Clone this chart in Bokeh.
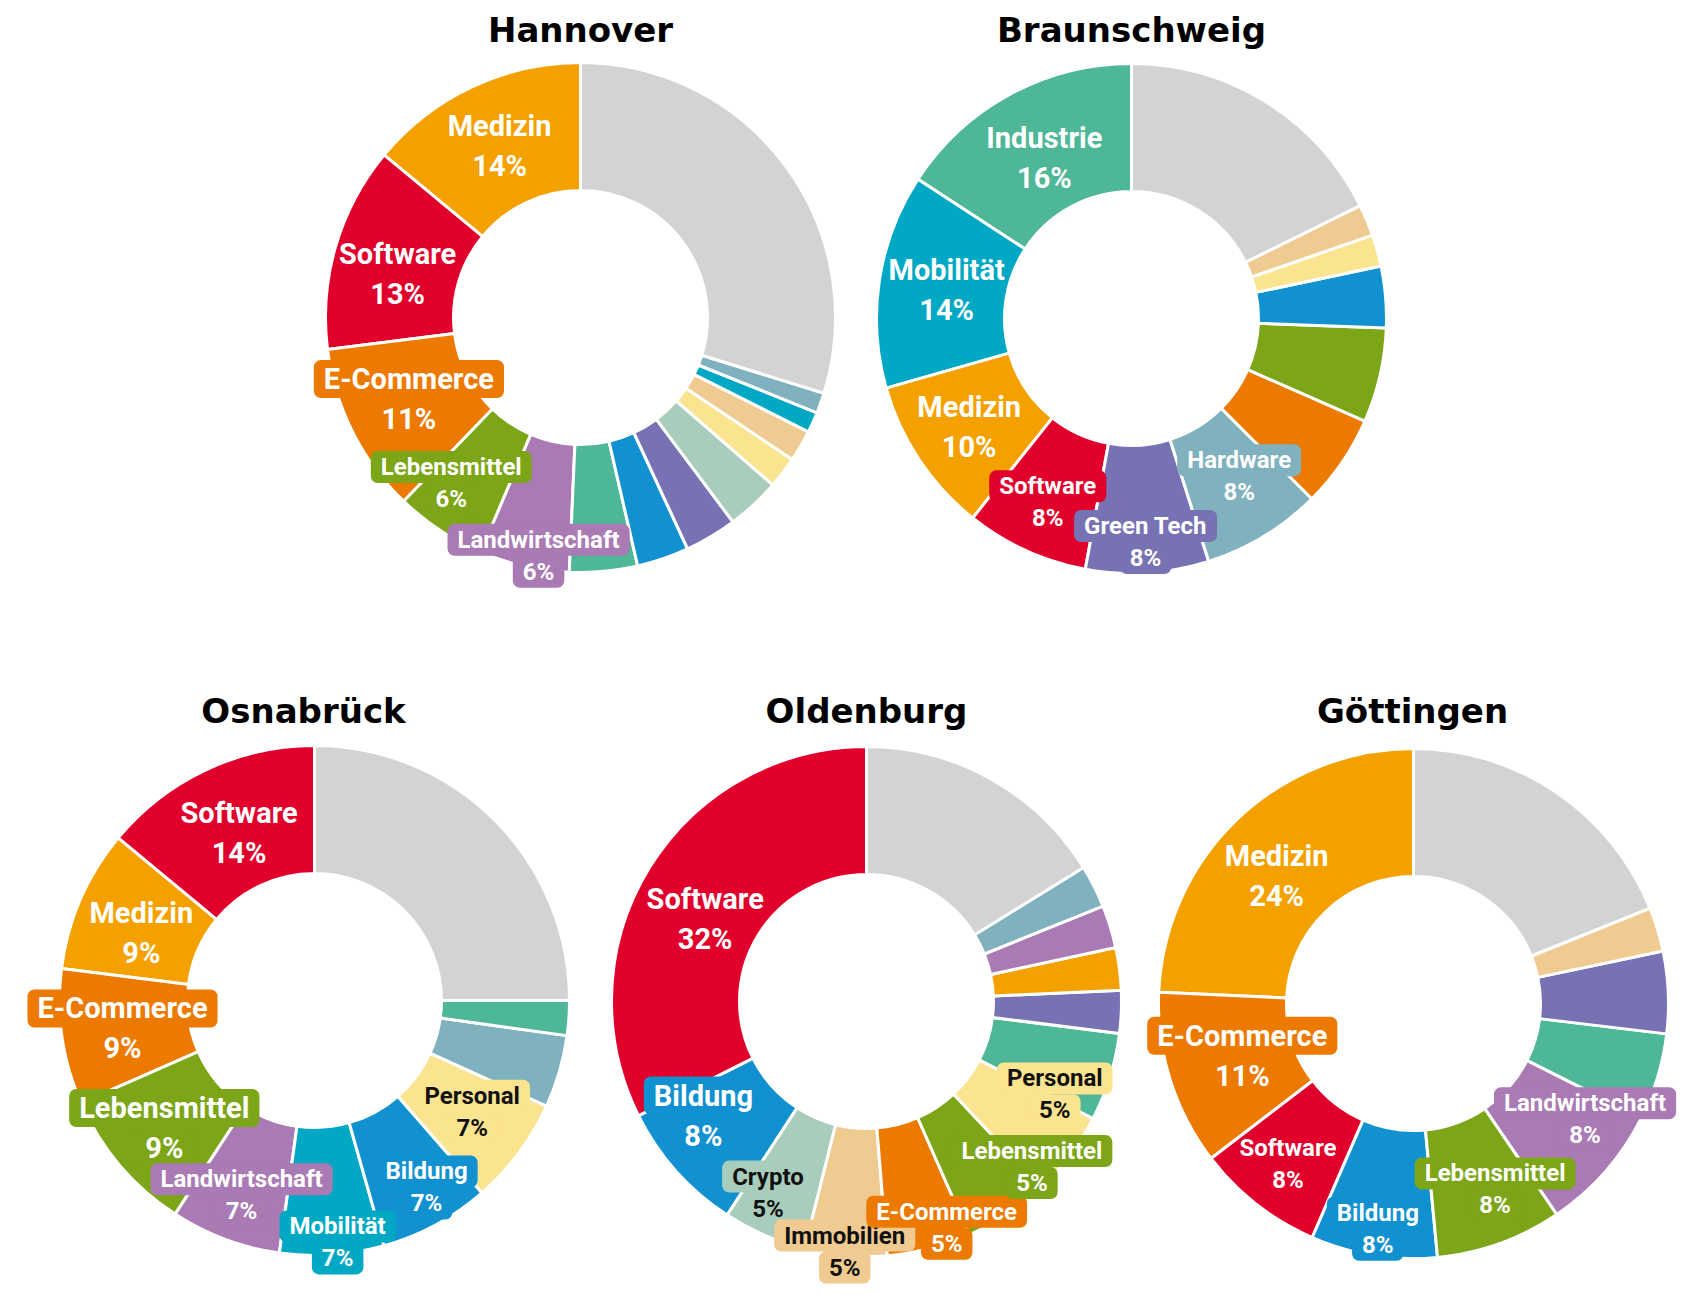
import math
from bokeh.plotting import figure
from bokeh.models import Range1d, ColumnDataSource
from bokeh.embed import file_html
from bokeh.resources import INLINE
from bokeh.core.properties import value

# ---------------- data ----------------
cities = ["Hannover", "Braunschweig", "Osnabrück", "Oldenburg", "Göttingen"]

hannover_cats = ["Medizin", "Software", "E-Commerce", "Lebensmittel", "Landwirtschaft",
                 "Industrie", "Bildung", "Green Tech", "Crypto", "Personal", "Immobilien",
                 "Mobilität", "Hardware", "Sonstige"]
hannover_vals = [14.0, 13.0, 10.8, 5.8, 5.7, 4.3, 3.3, 3.3, 3.4, 2.0, 2.0, 1.3, 1.3, 29.8]
hannover_labeled = 5

braunschweig_cats = ["Industrie", "Mobilität", "Medizin", "Software", "Green Tech", "Hardware",
                     "E-Commerce", "Lebensmittel", "Bildung", "Personal", "Immobilien", "Sonstige"]
braunschweig_vals = [15.8, 13.6, 9.9, 7.8, 7.8, 7.6, 5.9, 6.0, 3.9, 2.0, 2.0, 17.7]
braunschweig_labeled = 6

osnabrueck_cats = ["Software", "Medizin", "E-Commerce", "Lebensmittel", "Landwirtschaft",
                   "Mobilität", "Bildung", "Personal", "Hardware", "Industrie", "Sonstige"]
osnabrueck_vals = [14, 9, 8.6, 9.2, 7, 6.6, 7, 6.8, 4.6, 2.2, 25.0]
osnabrueck_labeled = 8

oldenburg_cats = ["Software", "Bildung", "Crypto", "Immobilien", "E-Commerce", "Lebensmittel",
                  "Personal", "Industrie", "Green Tech", "Medizin", "Landwirtschaft", "Hardware",
                  "Sonstige"]
oldenburg_vals = [32.4, 8.4, 5.3, 5.2, 5.3, 5.4, 5.4, 5.6, 2.7, 2.7, 2.7, 2.7, 16.2]
oldenburg_labeled = 7

goettingen_cats = ["Medizin", "E-Commerce", "Software", "Bildung", "Lebensmittel",
                   "Landwirtschaft", "Industrie", "Green Tech", "Immobilien", "Sonstige"]
goettingen_vals = [24.3, 11.1, 8.1, 8.0, 8.0, 8.1, 5.5, 5.2, 2.8, 18.9]
goettingen_labeled = 6

# ---------------- style ----------------
COLORS = {
    "Medizin": "#f4a100", "Software": "#e1002b", "E-Commerce": "#ec7900",
    "Lebensmittel": "#7ca518", "Landwirtschaft": "#a97ab4", "Industrie": "#4eb797",
    "Bildung": "#1191cf", "Green Tech": "#7772b4", "Crypto": "#a9cdbd",
    "Personal": "#fbe48f", "Immobilien": "#f0cb91", "Mobilität": "#00a8c4",
    "Hardware": "#7fb1be", "Sonstige": "#d3d3d3",
}
DARK_TEXT = {"Personal", "Crypto", "Immobilien"}

# layout in reference pixel coordinates (y downward)
CENTERS = {
    "Hannover": (580, 317), "Braunschweig": (1131, 318),
    "Osnabrück": (314, 1000), "Oldenburg": (866, 1001), "Göttingen": (1413, 1003),
}
TITLE_POS = {
    "Hannover": (580, 29), "Braunschweig": (1131, 29),
    "Osnabrück": (303, 710), "Oldenburg": (866, 710), "Göttingen": (1412, 710),
}
R_OUT = 255
R_IN = 127
# label (angle nudge in degrees, radius) for labeled slices, in order
LABEL_LAYOUT = {
    "Hannover": [(0, 190), (2.8, 188), (-1.2, 190), (-4.5, 210), (2.8, 242)],
    "Braunschweig": [(0, 183), (0, 187), (0, 195), (0, 202), (0, 224), (3, 191)],
    "Osnabrück": [(-1, 184), (2, 186), (0, 194), (0, 197), (0, 208), (1.5, 243), (2.5, 218), (1.5, 193)],
    "Oldenburg": [(4.7, 181), (-6.8, 199), (-3.7, 215), (-0.3, 251), (5.3, 240), (11.5, 234), (10.8, 210)],
    "Göttingen": [(3.3, 187), (-0.5, 179), (0, 204), (0, 228), (3.9, 203), (7.2, 207)],
}
NO_BOX = {
    "Hannover": {"Medizin", "Software"},
    "Braunschweig": {"Industrie", "Mobilität", "Medizin"},
    "Osnabrück": {"Software", "Medizin"},
    "Oldenburg": {"Software"},
    "Göttingen": {"Medizin", "Software"},
}

DATA = {
    "Hannover": (hannover_cats, hannover_vals, hannover_labeled),
    "Braunschweig": (braunschweig_cats, braunschweig_vals, braunschweig_labeled),
    "Osnabrück": (osnabrueck_cats, osnabrueck_vals, osnabrueck_labeled),
    "Oldenburg": (oldenburg_cats, oldenburg_vals, oldenburg_labeled),
    "Göttingen": (goettingen_cats, goettingen_vals, goettingen_labeled),
}

H_REF = 1295
FIG_W, FIG_H = 1683, 1287


def Y(y):
    return H_REF - y


p = figure(width=FIG_W, height=FIG_H, x_range=Range1d(0, FIG_W),
           y_range=Range1d(H_REF - FIG_H, H_REF),
           output_backend="svg", toolbar_location=None, min_border=0,
           x_axis_type=None, y_axis_type=None)
p.grid.visible = False
p.outline_line_color = None
p.background_fill_color = "white"

wedge = dict(x=[], y=[], start=[], end=[], color=[])
boxed = dict(x=[], y=[], text=[], color=[], bg=[], size=[])
plain = dict(x=[], y=[], text=[], color=[], size=[])
titles = dict(x=[], y=[], text=[])

for city in cities:
    cats, vals, nlab = DATA[city]
    cx, cy = CENTERS[city]
    total = sum(vals)
    cum = 0.0
    for i, (c, v) in enumerate(zip(cats, vals)):
        a0 = math.pi / 2 + 2 * math.pi * cum / total
        a1 = math.pi / 2 + 2 * math.pi * (cum + v) / total
        wedge["x"].append(cx)
        wedge["y"].append(Y(cy))
        wedge["start"].append(a0)
        wedge["end"].append(a1)
        wedge["color"].append(COLORS[c])
        if i < nlab:
            dth, rr = LABEL_LAYOUT[city][i]
            mid = (cum + v / 2) / total * 360 + dth
            phi = math.radians(90 + mid)
            lx = cx + rr * math.cos(phi)
            ly = cy - rr * math.sin(phi)
            big = v >= 8.3
            fs = 29 if big else 24
            sp = 40 if big else 32
            tc = "#111111" if c in DARK_TEXT else "white"
            pct = f"{round(v)}%"
            for txt, yy in ((c, ly - sp / 2), (pct, ly + sp / 2)):
                if c in NO_BOX[city]:
                    plain["x"].append(lx); plain["y"].append(Y(yy)); plain["text"].append(txt)
                    plain["color"].append(tc); plain["size"].append(f"{fs}px")
                else:
                    boxed["x"].append(lx); boxed["y"].append(Y(yy)); boxed["text"].append(txt)
                    boxed["color"].append(tc); boxed["bg"].append(COLORS[c])
                    boxed["size"].append(f"{fs}px")
        cum += v
    tx, ty = TITLE_POS[city]
    titles["x"].append(tx); titles["y"].append(Y(ty)); titles["text"].append(city)

p.annular_wedge(x="x", y="y", inner_radius=R_IN, outer_radius=R_OUT,
                start_angle="start", end_angle="end", direction="anticlock",
                fill_color="color", line_color="white", line_width=3,
                source=ColumnDataSource(wedge))

p.text(x="x", y="y", text="text", source=ColumnDataSource(plain),
       text_font=value("Roboto"), text_font_style="bold", text_font_size="size",
       text_color="color", text_align="center", text_baseline="middle")

p.text(x="x", y="y", text="text", source=ColumnDataSource(boxed),
       text_font=value("Roboto"), text_font_style="bold", text_font_size="size",
       text_color="color", text_align="center", text_baseline="middle",
       background_fill_color="bg", border_radius=7,
       padding=dict(left=10, right=10, top=2, bottom=2))

p.text(x="x", y="y", text="text", source=ColumnDataSource(titles),
       text_font=value("DejaVu Sans"), text_font_style="bold", text_font_size="34px",
       text_color="black", text_align="center", text_baseline="middle")

open("out.html", "w").write(file_html(p, INLINE))
